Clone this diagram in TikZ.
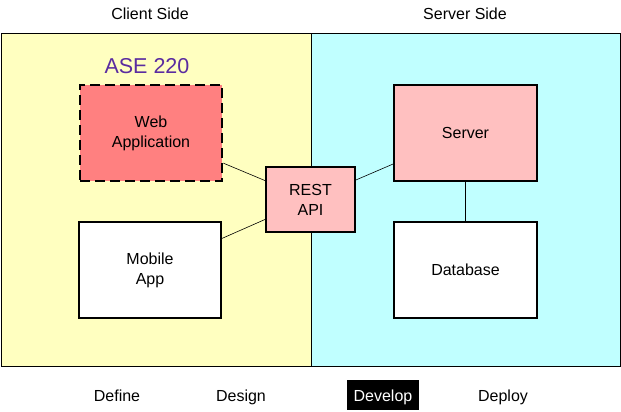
\documentclass[tikz,border=0pt]{standalone}
\usepackage{fontspec}
\setmainfont{Liberation Sans}
\usepackage{xcolor}
\usetikzlibrary{positioning}
\definecolor{clientbg}{HTML}{FFFFC0}
\definecolor{serverbg}{HTML}{C0FFFF}
\definecolor{webred}{HTML}{FF8080}
\definecolor{pinkbox}{HTML}{FFC0C0}
\definecolor{coursepurple}{HTML}{5A2CA0}

\begin{document}
\begin{tikzpicture}[x=1pt, y=-1pt, font=\fontsize{16}{20}\selectfont,
		panel/.style={rectangle, draw=black, line width=0.8pt, minimum height=333pt, inner sep=0pt},
		block/.style={rectangle, draw=black, line width=1.6pt, minimum width=142pt, minimum height=96pt, align=center},
		link/.style={draw=black, line width=0.6pt}]
			\useasboundingbox (0,0) rectangle (621,412);
			% the two sides
			\node[panel, fill=clientbg, minimum width=310pt](client) at (156,199.5){};
			\node[panel, fill=serverbg, minimum width=309pt](server) at (465.5,199.5){};
			\node[anchor=base](clientlbl) at (150,19.5){Client Side};
			\node[anchor=base](serverlbl) at (465,19.5){Server Side};
			% parts of the app
			\node[block, fill=webred, line width=2.8pt, dash pattern=on 10pt off 5pt](web) at (151,133){Web\\Application};
			\node[anchor=base, text=coursepurple, font=\fontsize{21.5}{24}\selectfont](course) at (147,74){ASE 220};
			\node[block, fill=white](mobile) at (150,270){Mobile\\App};
			\node[block, fill=pinkbox, minimum width=89pt, minimum height=65pt](api) at (310.5,199.5){REST\\API};
			\node[block, fill=pinkbox, minimum width=143pt](srv) at (465.5,133){Server};
			\node[block, fill=white, minimum width=143pt](db) at (465.5,270){Database};
			\draw[link] (web) -- (api);
			\draw[link] (mobile) -- (api);
			\draw[link] (api) -- (srv);
			\draw[link] (srv) -- (db);
			% stages
			\foreach \lab/\x in {Define/117, Design/241, Deploy/503}
			{
				\node[anchor=base](\lab) at (\x,401){\lab};
			}
			\node[fill=black, minimum width=72pt, minimum height=30pt, inner sep=0pt](devbox) at (383,395){};
			\node[anchor=base, text=white](Develop) at (383,401){Develop};
		\end{tikzpicture}
\end{document}
